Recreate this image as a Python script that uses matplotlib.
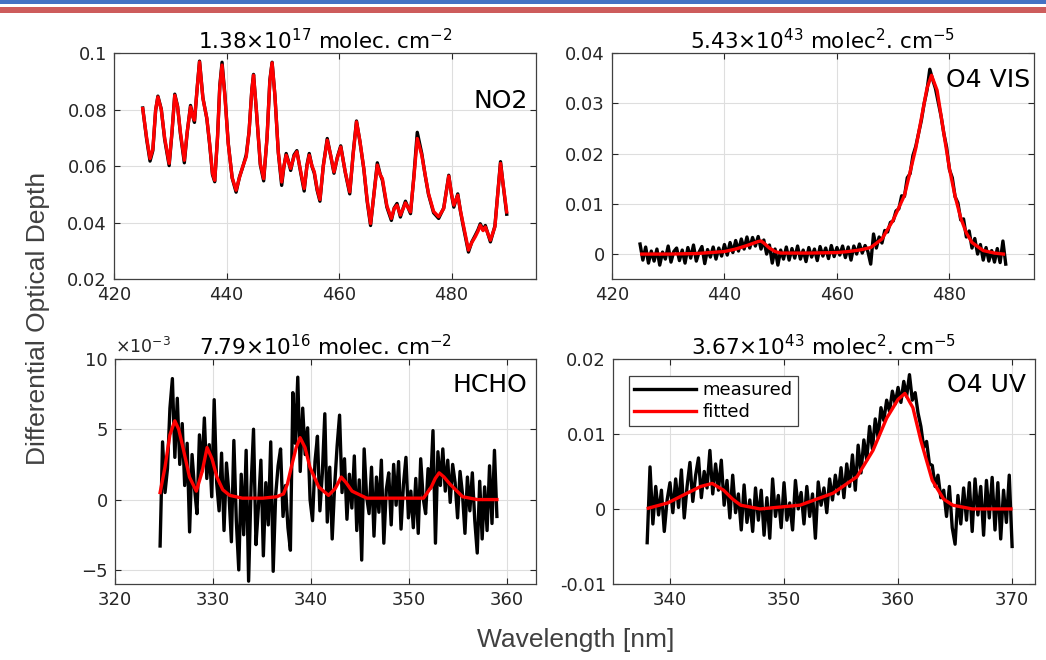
import numpy as np
import matplotlib
matplotlib.use('Agg')
import matplotlib.pyplot as plt
from matplotlib.patches import Rectangle

# ---- NO2 (425-490 nm): wavelength, fitted, measured
no2_nm = [425.1, 425.8, 426.4, 426.9, 427.4, 427.8, 428.4, 429.0, 429.8, 430.3,
          430.8, 431.3, 431.8, 432.5, 433.0, 433.6, 434.0, 434.3, 434.8, 435.2,
          435.8, 436.5, 437.0, 437.5, 437.9, 438.4, 438.8, 439.2, 439.7, 440.3,
          441.0, 441.7, 442.3, 442.9, 443.5, 444.0, 444.5, 444.8, 445.3, 446.0,
          446.6, 447.2, 447.7, 448.1, 448.6, 449.2, 449.8, 450.2, 450.6, 451.0,
          451.4, 452.0, 452.5, 453.2, 453.8, 454.3, 454.7, 455.2, 455.6, 456.1,
          456.6, 457.2, 457.9, 458.5, 459.1, 459.7, 460.3, 461.1, 461.9, 462.5,
          463.1, 463.7, 464.4, 465.0, 465.6, 466.2, 466.8, 467.3, 467.7, 468.5,
          469.3, 469.8, 470.3, 470.9, 471.4, 471.8, 472.7, 473.3, 473.9, 474.7,
          475.3, 475.9, 476.8, 477.7, 478.6, 479.5, 480.0, 480.4, 481.1, 481.6,
          482.1, 483.0, 483.6, 484.2, 484.7, 485.1, 485.6, 486.0, 486.9, 487.7,
          488.2, 488.7, 489.2, 489.8]
no2_fit = [0.0804, 0.0700, 0.0627, 0.0660, 0.0800, 0.0845, 0.0800, 0.0700, 0.0610, 0.0720,
           0.0851, 0.0810, 0.0720, 0.0621, 0.0720, 0.0810, 0.0775, 0.0763, 0.0880, 0.0969,
           0.0840, 0.0770, 0.0680, 0.0575, 0.0550, 0.0700, 0.0880, 0.0958, 0.0850, 0.0680,
           0.0560, 0.0515, 0.0560, 0.0600, 0.0633, 0.0720, 0.0870, 0.0922, 0.0800, 0.0610,
           0.0556, 0.0700, 0.0900, 0.0966, 0.0850, 0.0650, 0.0544, 0.0600, 0.0639, 0.0615,
           0.0592, 0.0635, 0.0651, 0.0580, 0.0521, 0.0600, 0.0639, 0.0600, 0.0580, 0.0520,
           0.0482, 0.0600, 0.0692, 0.0640, 0.0580, 0.0630, 0.0668, 0.0580, 0.0509, 0.0640,
           0.0757, 0.0690, 0.0592, 0.0480, 0.0397, 0.0500, 0.0604, 0.0570, 0.0556, 0.0460,
           0.0415, 0.0450, 0.0462, 0.0427, 0.0450, 0.0470, 0.0438, 0.0560, 0.0698, 0.0639,
           0.0570, 0.0503, 0.0440, 0.0421, 0.0450, 0.0565, 0.0500, 0.0462, 0.0497, 0.0440,
           0.0391, 0.0303, 0.0330, 0.0350, 0.0370, 0.0391, 0.0372, 0.0385, 0.0338, 0.0385,
           0.0500, 0.0610, 0.0530, 0.0438]
no2_meas = [0.0806, 0.0695, 0.0618, 0.0655, 0.0798, 0.0848, 0.0802, 0.0695, 0.0602, 0.0718,
            0.0855, 0.0812, 0.0715, 0.0612, 0.0718, 0.0815, 0.0778, 0.0755, 0.0882, 0.0972,
            0.0842, 0.0768, 0.0676, 0.0570, 0.0545, 0.0705, 0.0885, 0.0968, 0.0855, 0.0682,
            0.0558, 0.0508, 0.0562, 0.0598, 0.0640, 0.0722, 0.0872, 0.0925, 0.0798, 0.0605,
            0.0548, 0.0702, 0.0905, 0.0968, 0.0850, 0.0648, 0.0532, 0.0598, 0.0645, 0.0618,
            0.0585, 0.0640, 0.0655, 0.0575, 0.0512, 0.0605, 0.0645, 0.0598, 0.0575, 0.0515,
            0.0476, 0.0602, 0.0698, 0.0638, 0.0575, 0.0632, 0.0672, 0.0578, 0.0502, 0.0645,
            0.0760, 0.0688, 0.0590, 0.0475, 0.0390, 0.0502, 0.0612, 0.0572, 0.0550, 0.0455,
            0.0408, 0.0452, 0.0468, 0.0420, 0.0452, 0.0476, 0.0432, 0.0565, 0.0720, 0.0645,
            0.0568, 0.0500, 0.0435, 0.0415, 0.0452, 0.0568, 0.0498, 0.0455, 0.0502, 0.0438,
            0.0385, 0.0296, 0.0332, 0.0355, 0.0375, 0.0396, 0.0374, 0.0390, 0.0332, 0.0388,
            0.0502, 0.0616, 0.0528, 0.0430]

# ---- O4 VIS: measured sampled every 0.5 nm from 425 to 490
o4vis_start, o4vis_end = 425.0, 490.0
o4vis_meas = [0.0020, -0.0012, 0.0014, -0.0018, 0.0006, -0.0014, 0.0010, -0.0022, 0.0004, -0.0010,
              0.0016, -0.0016, 0.0005, 0.0012, -0.0013, 0.0008, -0.0018, 0.0013, -0.0008, 0.0018,
              -0.0014, 0.0004, 0.0015, -0.0019, 0.0009, -0.0006, 0.0014, -0.0010, 0.0012, -0.0004,
              0.0019, -0.0002, 0.0023, 0.0003, 0.0027, 0.0006, 0.0030, 0.0010, 0.0034, 0.0012,
              0.0033, 0.0016, 0.0035, 0.0010, 0.0028, 0.0000, 0.0018, -0.0018, 0.0010, -0.0022,
              0.0008, -0.0010, 0.0014, -0.0012, 0.0011, -0.0008, 0.0016, -0.0010, 0.0008, -0.0015,
              0.0013, -0.0006, 0.0010, -0.0013, 0.0015, -0.0004, 0.0012, -0.0009, 0.0017, -0.0005,
              0.0013, -0.0002, 0.0016, -0.0007, 0.0014, -0.0012, 0.0016, 0.0000, 0.0020, 0.0002,
              0.0017, 0.0005, -0.0020, 0.0040, 0.0012, 0.0034, 0.0022, 0.0047, 0.0044, 0.0063,
              0.0066, 0.0086, 0.0090, 0.0116, 0.0115, 0.0152, 0.0160, 0.0196, 0.0214, 0.0240,
              0.0266, 0.0300, 0.0326, 0.0368, 0.0348, 0.0330, 0.0302, 0.0275, 0.0240, 0.0212,
              0.0168, 0.0152, 0.0114, 0.0102, 0.0068, 0.0070, 0.0034, 0.0046, 0.0012, 0.0031,
              0.0000, 0.0019, -0.0012, 0.0013, -0.0014, 0.0007, -0.0016, 0.0011, -0.0017, 0.0026,
              -0.0020]
o4vis_fit_nm = [425.3, 430.0, 435.0, 440.0, 442.0, 444.0, 446.0, 446.5, 447.0, 448.0,
                449.0, 450.0, 455.0, 460.0, 462.0, 464.0, 466.0, 468.0, 470.0, 472.0,
                474.0, 475.0, 476.0, 476.8, 477.8, 479.0, 480.0, 481.0, 482.0, 483.0,
                484.0, 486.0, 488.0, 489.6]
o4vis_fit = [0.0000, 0.0000, 0.0001, 0.0005, 0.0010, 0.0017, 0.0025, 0.0026, 0.0022, 0.0012,
             0.0005, 0.0002, 0.0002, 0.0003, 0.0005, 0.0008, 0.0013, 0.0030, 0.0068, 0.0117,
             0.0210, 0.0270, 0.0330, 0.0356, 0.0326, 0.0240, 0.0170, 0.0115, 0.0072, 0.0042,
             0.0023, 0.0007, 0.0002, 0.0000]

# ---- HCHO (units of 1e-3): measured from 324.6 to 359.0 nm
hcho_start, hcho_end = 324.6, 359.0
hcho_meas = [-3.3, 4.1, 0.5, 2.2, 6.5, 8.6, 3.0, 7.2,
             2.5, 5.4, 1.0, 4.0, -2.3, 3.2, 0.8, -1.0,
             4.6, 2.0, 5.8, 1.5, 3.9, 0.2, 7.1, 1.2,
             -0.8, 3.3, -2.2, 2.6, 0.4, -3.0, 4.2, -1.5,
             -5.0, 1.8, -2.5, 3.5, -5.8, 0.9, 5.0, -3.2,
             -0.5, 2.8, -4.0, 1.2, -1.8, 4.1, -5.1, 0.3,
             2.4, 3.6, -1.2, 1.0, -2.0, -3.6, 7.6, 4.0,
             8.7, 2.0, 6.5, 3.2, 5.1, 0.0, -1.5, 2.7,
             4.5, -0.8, 1.9, 6.1, -1.6, 2.3, -2.8, 1.0,
             3.8, 6.0, 0.5, 2.9, -1.4, 1.8, -0.6, 3.1,
             -2.2, 1.4, -4.3, 3.6, 0.2, -1.0, 2.3, -2.6,
             1.6, -0.9, 2.8, -3.1, 0.7, 1.9, -1.8, 2.5,
             -0.4, 2.7, -2.1, 1.1, 3.0, -1.3, 0.6, -2.0,
             1.5, -2.4, 2.9, 0.1, -1.0, 2.2, 0.8, 4.9,
             -3.1, 3.4, 1.0, 3.6, 0.6, 2.8, -0.2, 2.5,
             1.2, -1.3, 2.0, 0.4, -2.4, 1.6, -0.8, 1.9,
             -1.5, -3.8, 1.3, -2.8, 0.9, -2.2, 2.4, -1.7,
             3.5, -1.2]
hcho_fit_nm = [324.6, 325.1, 325.6, 326.1, 326.5, 327.0, 327.6, 328.3, 328.9, 329.4,
               329.9, 330.4, 331.0, 331.7, 333.0, 335.1, 336.5, 337.2, 337.6, 338.0,
               338.5, 338.9, 339.4, 339.9, 340.8, 341.8, 342.5, 343.1, 343.6, 344.2,
               345.7, 348.0, 351.5, 352.3, 352.7, 353.1, 353.6, 354.2, 355.5, 357.0,
               359.0]
hcho_fit = [0.5, 2.3, 4.6, 5.6, 5.0, 3.5, 1.6, 0.6, 2.0, 3.7,
            2.9, 1.6, 0.7, 0.3, 0.1, 0.1, 0.2, 0.4, 1.1, 2.3,
            3.7, 4.4, 3.7, 2.3, 0.9, 0.3, 0.8, 1.6, 1.2, 0.6,
            0.1, 0.1, 0.1, 0.9, 1.5, 1.9, 1.6, 1.1, 0.2, 0.0,
            0.0]

# ---- O4 UV: measured sampled every 0.25 nm from 338 to 370
o4uv_start, o4uv_end = 338.0, 370.0
o4uv_meas = [-0.0045, 0.0056, -0.0020, 0.0030, -0.0008, 0.0025, -0.0030, 0.0012,
             0.0035, -0.0005, 0.0040, 0.0002, 0.0052, -0.0012, 0.0030, 0.0062,
             0.0010, 0.0045, 0.0068, 0.0015, 0.0050, 0.0028, 0.0078, 0.0020,
             0.0060, 0.0025, 0.0065, 0.0005, 0.0038, -0.0012, 0.0045, -0.0005,
             0.0020, -0.0028, 0.0032, -0.0018, 0.0012, -0.0030, 0.0028, -0.0015,
             0.0025, -0.0035, 0.0015, -0.0039, 0.0040, -0.0010, 0.0018, -0.0025,
             0.0035, -0.0015, 0.0008, -0.0028, 0.0038, 0.0000, 0.0022, -0.0020,
             0.0030, -0.0010, 0.0020, -0.0039, 0.0036, 0.0005, 0.0028, -0.0005,
             0.0040, 0.0012, 0.0045, 0.0020, 0.0055, 0.0015, 0.0060, 0.0030,
             0.0072, 0.0025, 0.0085, 0.0048, 0.0092, 0.0065, 0.0110, 0.0080,
             0.0120, 0.0095, 0.0135, 0.0118, 0.0145, 0.0130, 0.0157, 0.0140,
             0.0162, 0.0142, 0.0170, 0.0150, 0.0179, 0.0145, 0.0155, 0.0128,
             0.0110, 0.0082, 0.0090, 0.0060, 0.0058, 0.0030, 0.0045, 0.0015,
             0.0025, -0.0010, 0.0030, -0.0025, -0.0047, 0.0018, -0.0020, 0.0028,
             -0.0015, 0.0035, -0.0030, 0.0040, -0.0008, 0.0030, -0.0035, 0.0038,
             -0.0012, 0.0042, -0.0028, 0.0035, -0.0040, 0.0025, -0.0018, 0.0045,
             -0.0050]
o4uv_fit_nm = [338.1, 339.8, 341.5, 342.7, 343.7, 344.7, 345.5, 346.2, 347.9, 351.4,
               354.3, 356.4, 357.8, 359.0, 360.0, 360.6, 361.3, 362.0, 363.0, 364.0,
               364.8, 366.5, 369.9]
o4uv_fit = [0.0001, 0.0008, 0.0021, 0.0030, 0.0034, 0.0025, 0.0013, 0.0005, 0.0000, 0.0005,
            0.0021, 0.0043, 0.0078, 0.0121, 0.0146, 0.0154, 0.0135, 0.0091, 0.0038, 0.0013,
            0.0005, 0.0000, 0.0000]

titles = [r'1.38$\times$10$^{17}$ molec. cm$^{-2}$',
          r'5.43$\times$10$^{43}$ molec$^{2}$. cm$^{-5}$',
          r'7.79$\times$10$^{16}$ molec. cm$^{-2}$',
          r'3.67$\times$10$^{43}$ molec$^{2}$. cm$^{-5}$']
species = ['NO2', 'O4 VIS', 'HCHO', 'O4 UV']

TXT = '#262626'
plt.rcParams['font.family'] = 'DejaVu Sans'

fig = plt.figure(figsize=(10.46, 6.6), dpi=100)

# slide banner at the very top
fig.add_artist(Rectangle((0, 1 - 4 / 660), 1, 4 / 660, transform=fig.transFigure,
                         color='#4472C4', lw=0))
fig.add_artist(Rectangle((0, 1 - 13 / 660), 1, 6 / 660, transform=fig.transFigure,
                         color='#CD5C5C', lw=0))

ax_tl = fig.add_axes([0.109, 0.577, 0.4034, 0.3424])
ax_tr = fig.add_axes([0.585, 0.577, 0.4034, 0.3424])
ax_bl = fig.add_axes([0.110, 0.1152, 0.4025, 0.341])
ax_br = fig.add_axes([0.586, 0.1152, 0.4034, 0.341])
axes = [ax_tl, ax_tr, ax_bl, ax_br]

lw = 2.4
ax_tl.plot(no2_nm, no2_meas, color='black', lw=lw)
ax_tl.plot(no2_nm, no2_fit, color='red', lw=lw)

ax_tr.plot(np.linspace(o4vis_start, o4vis_end, len(o4vis_meas)), o4vis_meas, color='black', lw=lw)
ax_tr.plot(o4vis_fit_nm, o4vis_fit, color='red', lw=lw)

ax_bl.plot(np.linspace(hcho_start, hcho_end, len(hcho_meas)), hcho_meas, color='black', lw=lw)
ax_bl.plot(hcho_fit_nm, hcho_fit, color='red', lw=lw)

ax_br.plot(np.linspace(o4uv_start, o4uv_end, len(o4uv_meas)), o4uv_meas, color='black', lw=lw,
           label='measured')
ax_br.plot(o4uv_fit_nm, o4uv_fit, color='red', lw=lw, label='fitted')

ax_tl.set_xlim(420, 495)
ax_tl.set_ylim(0.02, 0.1)
ax_tl.set_xticks([420, 440, 460, 480])
ax_tl.set_yticks([0.02, 0.04, 0.06, 0.08, 0.1])
ax_tl.set_yticklabels(['0.02', '0.04', '0.06', '0.08', '0.1'])

ax_tr.set_xlim(420, 495)
ax_tr.set_ylim(-0.005, 0.04)
ax_tr.set_xticks([420, 440, 460, 480])
ax_tr.set_yticks([0, 0.01, 0.02, 0.03, 0.04])
ax_tr.set_yticklabels(['0', '0.01', '0.02', '0.03', '0.04'])

ax_bl.set_xlim(320, 363)
ax_bl.set_ylim(-6, 10)
ax_bl.set_xticks([320, 330, 340, 350, 360])
ax_bl.set_yticks([-5, 0, 5, 10])
ax_bl.text(0.0, 1.01, r'$\times$10$^{-3}$', transform=ax_bl.transAxes, fontsize=12.5,
           color=TXT, ha='left', va='bottom')

ax_br.set_xlim(335, 372)
ax_br.set_ylim(-0.01, 0.02)
ax_br.set_xticks([340, 350, 360, 370])
ax_br.set_yticks([-0.01, 0, 0.01, 0.02])
ax_br.set_yticklabels(['-0.01', '0', '0.01', '0.02'])

label_pos = [(0.98, 0.79), (0.99, 0.88), (0.98, 0.885), (0.98, 0.885)]
for ax, title, name, (lx, ly) in zip(axes, titles, species, label_pos):
    ax.set_title(title, fontsize=15.5, color='black', pad=3)
    ax.text(lx, ly, name, transform=ax.transAxes, fontsize=18, ha='right', va='center',
            color='black')
    ax.grid(True, color='#dedede', lw=0.8)
    ax.set_axisbelow(True)
    ax.tick_params(direction='in', length=4, width=0.8, labelsize=13, colors=TXT,
                   top=True, right=True, pad=5)
    for s in ax.spines.values():
        s.set_color('#404040')
        s.set_linewidth(0.9)

leg = ax_br.legend(loc='upper left', bbox_to_anchor=(0.016, 0.965), fontsize=13,
                   handlelength=3.4, frameon=True, fancybox=False, framealpha=1,
                   borderpad=0.3, labelspacing=0.2, handletextpad=0.4)
leg.get_frame().set_edgecolor('#404040')
leg.get_frame().set_linewidth(0.9)

fig.text(0.036, 0.518, 'Differential Optical Depth', rotation=90, ha='center', va='center',
         fontsize=19, family='Liberation Sans', color='#404040')
fig.text(0.55, 0.03, 'Wavelength [nm]', ha='center', va='center',
         fontsize=19, family='Liberation Sans', color='#404040')

fig.savefig('out.png', dpi=100)
